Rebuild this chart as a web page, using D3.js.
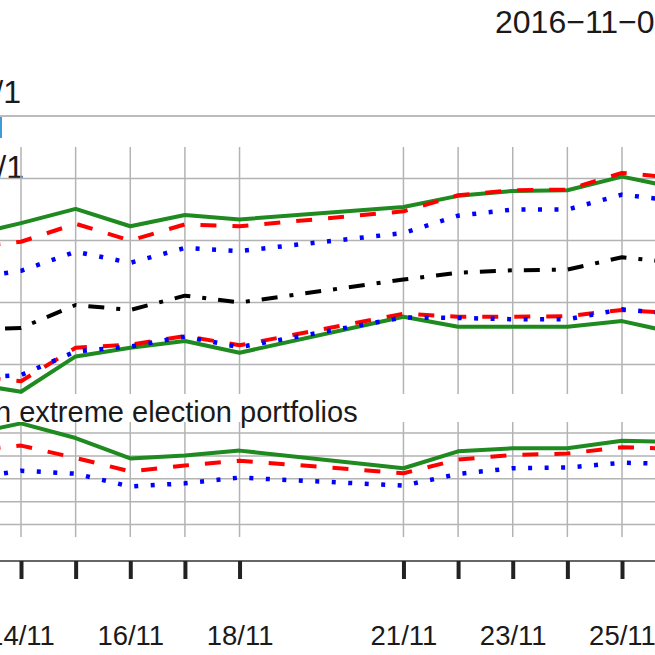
<!DOCTYPE html>
<html>
<head>
<meta charset="utf-8">
<script src="https://cdn.jsdelivr.net/npm/d3@7"></script>
<style>
  html, body { margin: 0; padding: 0; background: #fff; }
  svg { display: block; }
  text { font-family: "Liberation Sans", Arial, sans-serif; fill: #1a1a1a; }
</style>
</head>
<body>
<div id="chart"></div>
<script>
// ---- data ----
const dates = ["2016-11-11","2016-11-14","2016-11-15","2016-11-16","2016-11-17","2016-11-18",
               "2016-11-21","2016-11-22","2016-11-23","2016-11-24","2016-11-25","2016-11-28"];
const tickDates = ["2016-11-14","2016-11-15","2016-11-16","2016-11-17","2016-11-18",
                   "2016-11-21","2016-11-22","2016-11-23","2016-11-24","2016-11-25"];
const tickLabels = ["14/11","","16/11","","18/11","21/11","","23/11","","25/11"];
const upperGridValues = [-1, 0, 1, 2];
const lowerGridValues = [-2, -1, 0, 1, 2];

const upperGreenHigh = [0.65,1.28,1.51,1.23,1.41,1.34,1.54,1.72,1.80,1.81,2.03,1.49];
const upperRedHigh   = [0.70,0.98,1.27,1.00,1.26,1.23,1.47,1.73,1.81,1.82,2.09,1.85];
const upperBlueHigh  = [0.14,0.51,0.82,0.64,0.88,0.83,1.12,1.40,1.50,1.50,1.74,1.43];
const upperBlack     = [-0.49,-0.41,-0.04,-0.12,0.11,0.00,0.37,0.48,0.52,0.53,0.73,0.46];
const upperGreenLow  = [-1.01,-1.44,-0.87,-0.73,-0.62,-0.81,-0.23,-0.39,-0.39,-0.39,-0.30,-0.88];
const upperRedLow    = [-1.02,-1.27,-0.73,-0.68,-0.54,-0.69,-0.18,-0.23,-0.23,-0.22,-0.12,-0.28];
const upperBlueLow   = [-1.33,-1.17,-0.79,-0.71,-0.55,-0.72,-0.24,-0.25,-0.27,-0.27,-0.11,-0.35];

const lowerGreen = [0.92,2.42,1.78,0.89,1.02,1.23,0.46,1.20,1.33,1.33,1.66,1.48];
const lowerRed   = [0.75,1.45,0.91,0.32,0.58,0.79,0.24,0.84,1.04,1.10,1.38,1.17];
const lowerBlue  = [-0.71,0.35,0.22,-0.34,-0.20,0.05,-0.30,0.21,0.46,0.49,0.70,0.56];

const titleText = "2016\u221211\u22120";
const sideLabel1 = "/1";
const sideLabel2 = "/1";
const panelTitle = "n extreme election portfolios";

// ---- setup ----
const W = 655, H = 655;
const parse = d3.timeParse("%Y-%m-%d");
const svg = d3.select("#chart").append("svg").attr("width", W).attr("height", H);
svg.append("rect").attr("width", W).attr("height", H).attr("fill", "#fff");

const x = d3.scaleTime()
  .domain([parse("2016-11-14"), parse("2016-11-25")])
  .range([21, 622]);

const upper = { top: 147, bottom: 394 };
const lower = { top: 422, bottom: 537 };

const yU = d3.scaleLinear().domain([-1, 2]).range([364.5, 178.5]);
const yL = d3.scaleLinear().domain([-2, 2]).range([524.5, 433]);

const gridColor = "#b3b3b3";
const defs = svg.append("defs");
defs.append("clipPath").attr("id", "clipU").append("rect")
  .attr("x", -1000).attr("y", upper.top).attr("width", 3000).attr("height", upper.bottom - upper.top);
defs.append("clipPath").attr("id", "clipL").append("rect")
  .attr("x", -1000).attr("y", lower.top).attr("width", 3000).attr("height", lower.bottom - lower.top);

// texts at top
svg.append("text").attr("x", 495).attr("y", 33).attr("font-size", 32).text(titleText);
svg.append("text").attr("x", 21).attr("y", 103).attr("font-size", 32).attr("text-anchor", "end").text(sideLabel1);
svg.append("text").attr("x", 24).attr("y", 178).attr("font-size", 32).attr("text-anchor", "end").text(sideLabel2);

// rule line and small blue key segment
svg.append("line").attr("x1", 0).attr("x2", W).attr("y1", 116).attr("y2", 116)
  .attr("stroke", "#a6a6a6").attr("stroke-width", 1.5);
svg.append("line").attr("x1", 1).attr("x2", 1).attr("y1", 117).attr("y2", 138)
  .attr("stroke", "#3f9bd6").attr("stroke-width", 2);

function drawGrid(panel, yScale, values) {
  const g = svg.append("g");
  g.selectAll("line.v").data(tickDates).join("line")
    .attr("x1", d => x(parse(d))).attr("x2", d => x(parse(d)))
    .attr("y1", panel.top).attr("y2", panel.bottom)
    .attr("stroke", gridColor).attr("stroke-width", 1.5);
  g.selectAll("line.h").data(values).join("line")
    .attr("x1", 0).attr("x2", W)
    .attr("y1", d => yScale(d)).attr("y2", d => yScale(d))
    .attr("stroke", gridColor).attr("stroke-width", 1.5);
}
drawGrid(upper, yU, upperGridValues);
drawGrid(lower, yL, lowerGridValues);

const styles = {
  green: { stroke: "#1f8a1f", dash: null, width: 4 },
  red:   { stroke: "#ff0000", dash: "16,16", width: 4 },
  blue:  { stroke: "#0000ff", dash: "4,12.5", width: 4.5 },
  black: { stroke: "#000000", dash: "4,12,16,12", width: 4 }
};

function drawSeries(values, yScale, style, clip) {
  const data = dates.map((d, i) => ({ date: parse(d), v: values[i] }));
  const line = d3.line().x(d => x(d.date)).y(d => yScale(d.v));
  svg.append("path").datum(data)
    .attr("clip-path", `url(#${clip})`)
    .attr("d", line)
    .attr("fill", "none")
    .attr("stroke", style.stroke)
    .attr("stroke-width", style.width)
    .attr("stroke-dasharray", style.dash)
    .attr("stroke-linecap", "butt")
    .attr("stroke-linejoin", "round");
}

drawSeries(upperGreenHigh, yU, styles.green, "clipU");
drawSeries(upperGreenLow, yU, styles.green, "clipU");
drawSeries(upperRedHigh, yU, styles.red, "clipU");
drawSeries(upperRedLow, yU, styles.red, "clipU");
drawSeries(upperBlueHigh, yU, styles.blue, "clipU");
drawSeries(upperBlueLow, yU, styles.blue, "clipU");
drawSeries(upperBlack, yU, styles.black, "clipU");

drawSeries(lowerGreen, yL, styles.green, "clipL");
drawSeries(lowerRed, yL, styles.red, "clipL");
drawSeries(lowerBlue, yL, styles.blue, "clipL");

// panel title
svg.append("text").attr("x", -5).attr("y", 422).attr("font-size", 29).text(panelTitle);

// x axis
const axisY = 561;
const axis = d3.axisBottom(x)
  .tickValues(tickDates.map(parse))
  .tickSize(18)
  .tickFormat((d, i) => tickLabels[i]);
const ag = svg.append("g").attr("transform", `translate(0,${axisY})`).call(axis);
ag.select(".domain").attr("d", `M0,0H${W}`).attr("stroke", "#333").attr("stroke-width", 1.5);
ag.selectAll(".tick line").attr("stroke", "#222").attr("stroke-width", 4);
ag.selectAll(".tick text")
  .attr("y", 84).attr("dy", 0)
  .attr("font-size", 27.5)
  .attr("font-family", "Liberation Sans, Arial, sans-serif")
  .attr("fill", "#1a1a1a");
</script>
</body>
</html>
